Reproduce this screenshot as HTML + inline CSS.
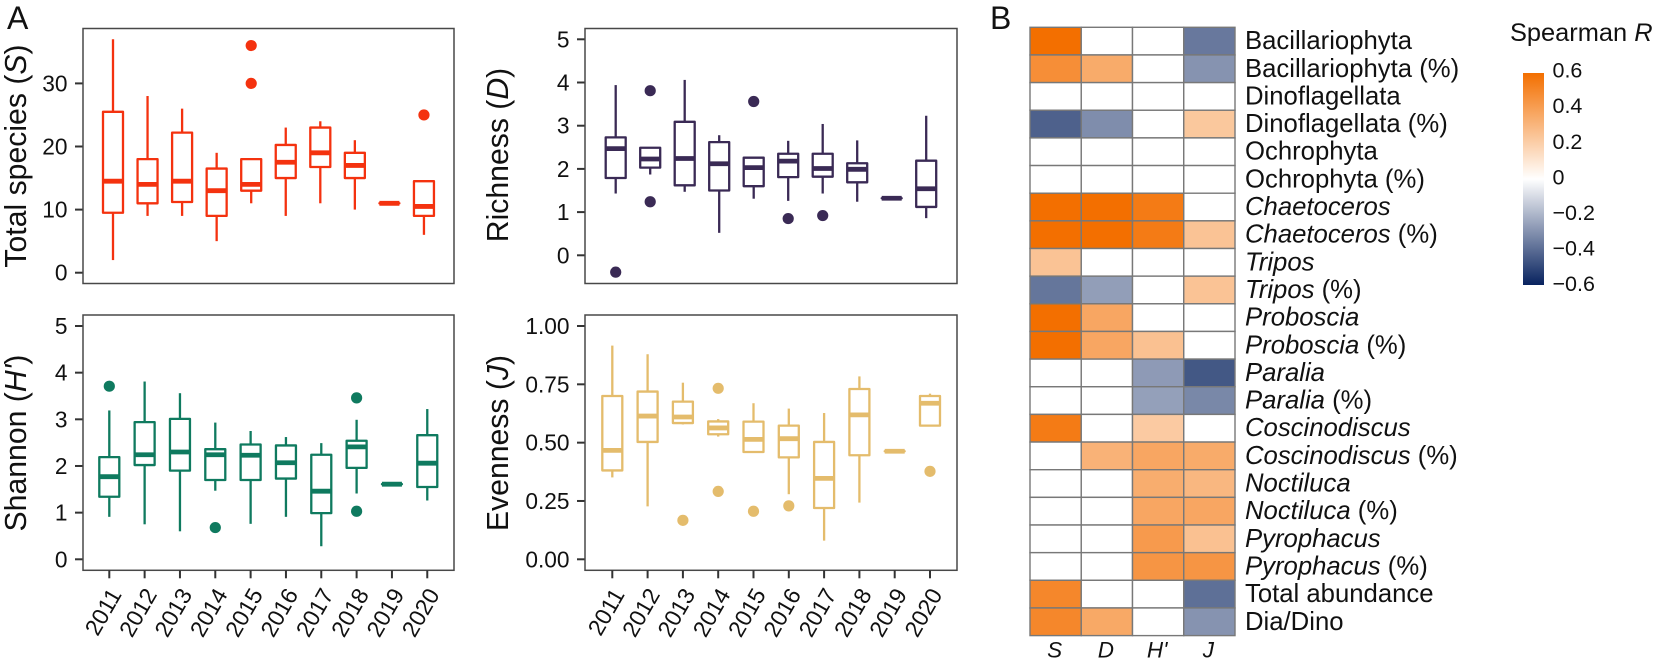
<!DOCTYPE html>
<html lang="en">
<head>
<meta charset="utf-8">
<title>Boxplots of diversity indices and Spearman heatmap</title>
<style>
html,body{margin:0;padding:0;background:#fff;}
body{width:1654px;height:666px;overflow:hidden;}
svg{display:block;}
text{font-family:"Liberation Sans",Arial,sans-serif;fill:#111;}
</style>
</head>
<body>
<svg id="figure" xmlns="http://www.w3.org/2000/svg" width="1654" height="666" viewBox="0 0 1654 666">
  <defs>
    <linearGradient id="legend-gradient" x1="0" y1="0" x2="0" y2="1">
      <stop offset="0" stop-color="#f36f00"/>
      <stop offset="0.5" stop-color="#ffffff"/>
      <stop offset="1" stop-color="#08235f"/>
    </linearGradient>
  </defs>
  <text x="7" y="29" font-size="32">A</text>
  <text x="990" y="29" font-size="32">B</text>
  <text x="1510" y="41" font-size="25.4">Spearman <tspan font-style="italic">R</tspan></text>
  <rect x="1523" y="73" width="21" height="212" fill="url(#legend-gradient)"/>
</svg>
<script>
// ---- Shared categories ----
const years = ['2011','2012','2013','2014','2015','2016','2017','2018','2019','2020'];

// ---- Total species (S) ----
const sLow = [2, 9, 9, 5, 11, 9, 11, 10, 11, 6];
const sQ1 = [9.5, 11, 11.2, 9, 13, 15, 16.75, 15, 11, 9];
const sMedian = [14.5, 14, 14.5, 13, 14, 17.5, 19, 17, 11, 10.5];
const sQ3 = [25.5, 18, 22.2, 16.5, 18, 20.25, 23, 19, 11, 14.5];
const sHigh = [37, 28, 26, 19, 18, 23, 24, 21, 11, 14.5];
const sOutliers = [[], [], [], [], [30, 36], [], [], [], [], [25]];
const sTicks = [0, 10, 20, 30];

// ---- Richness (D) ----
const dLow = [1.43, 1.87, 1.47, 0.52, 1.31, 1.26, 1.43, 1.24, 1.32, 0.86];
const dQ1 = [1.79, 2.03, 1.62, 1.5, 1.6, 1.81, 1.82, 1.69, 1.32, 1.12];
const dMedian = [2.47, 2.23, 2.24, 2.12, 2.03, 2.18, 2.01, 1.99, 1.32, 1.54];
const dQ3 = [2.73, 2.49, 3.09, 2.62, 2.26, 2.35, 2.35, 2.13, 1.32, 2.19];
const dHigh = [3.94, 2.49, 4.06, 2.78, 2.26, 2.65, 3.04, 2.66, 1.32, 3.23];
const dOutliers = [[-0.39], [3.81, 1.24], [], [], [3.56], [0.85], [0.92], [], [], []];
const dTicks = [0, 1, 2, 3, 4, 5];

// ---- Shannon (H') ----
const hLow = [0.91, 0.75, 0.6, 1.47, 0.76, 0.91, 0.28, 1.41, 1.61, 1.26];
const hQ1 = [1.34, 2.02, 1.9, 1.7, 1.7, 1.73, 0.99, 1.96, 1.61, 1.55];
const hMedian = [1.77, 2.24, 2.3, 2.24, 2.23, 2.07, 1.46, 2.41, 1.61, 2.06];
const hQ3 = [2.19, 2.94, 3.01, 2.36, 2.46, 2.44, 2.24, 2.54, 1.61, 2.66];
const hHigh = [3.19, 3.81, 3.56, 2.93, 2.75, 2.62, 2.49, 2.99, 1.61, 3.22];
const hOutliers = [[3.71], [], [], [0.68], [], [], [], [3.46, 1.03], [], []];
const hTicks = [0, 1, 2, 3, 4, 5];

// ---- Evenness (J) ----
const jLow = [0.351, 0.227, 0.578, 0.526, 0.46, 0.279, 0.08, 0.243, 0.463, 0.573];
const jQ1 = [0.381, 0.503, 0.584, 0.536, 0.46, 0.437, 0.22, 0.446, 0.463, 0.573];
const jMedian = [0.467, 0.614, 0.61, 0.563, 0.514, 0.517, 0.347, 0.619, 0.463, 0.669];
const jQ3 = [0.70, 0.719, 0.676, 0.591, 0.59, 0.573, 0.503, 0.73, 0.463, 0.70];
const jHigh = [0.916, 0.879, 0.757, 0.601, 0.669, 0.646, 0.627, 0.784, 0.463, 0.71];
const jOutliers = [[], [], [0.167], [0.733, 0.291], [0.206], [0.229], [], [], [], [0.377]];
const jTicks = [0, 0.25, 0.5, 0.75, 1];
const jTickLabels = ['0.00', '0.25', '0.50', '0.75', '1.00'];

// ---- Heatmap ----
const heatRows = ['Bacillariophyta','Bacillariophyta (%)','Dinoflagellata','Dinoflagellata (%)','Ochrophyta','Ochrophyta (%)','Chaetoceros','Chaetoceros (%)','Tripos','Tripos (%)','Proboscia','Proboscia (%)','Paralia','Paralia (%)','Coscinodiscus','Coscinodiscus (%)','Noctiluca','Noctiluca (%)','Pyrophacus','Pyrophacus (%)','Total abundance','Dia/Dino'];
const heatItalicRows = [6,7,8,9,10,11,12,13,14,15,16,17,18,19];
const heatColumns = ['S','D',"H'",'J'];
const heatS = [0.6,0.47,0,-0.43,0,0,0.6,0.6,0.25,-0.375,0.6,0.6,0,0,0.55,0,0,0,0,0,0.5,0.5];
const heatD = [0,0.35,0,-0.31,0,0,0.6,0.6,0,-0.265,0.37,0.37,0,0,0,0.32,0,0,0,0,0,0.36];
const heatH = [0,0,0,0,0,0,0.55,0.55,0,0,0,0.26,-0.275,-0.26,0.22,0.37,0.34,0.37,0.42,0.44,0,0];
const heatJ = [-0.367,-0.295,0,0.23,0,0,0,0.25,0,0.25,0,0,-0.456,-0.325,0,0.35,0.3,0.37,0.26,0.44,-0.39,-0.295];

// ---- Legend ----
const legendTicks = [0.6, 0.4, 0.2, 0, -0.2, -0.4, -0.6];
const legendTickLabels = ['0.6','0.4','0.2','0','\u22120.2','\u22120.4','\u22120.6'];

const svg = document.getElementById('figure');
const NS = 'http://www.w3.org/2000/svg';

function make(tag, attrs, parent) {
  const node = document.createElementNS(NS, tag);
  for (const k in attrs) node.setAttribute(k, attrs[k]);
  (parent || svg).appendChild(node);
  return node;
}

function drawPanel(p) {
  const g = make('g', {});
  
  

  const yScale = v => p.yZero - (v - p.yBase) * p.yUnit;
  const xScale = i => p.xFirst + i * p.xStep;

  // y ticks
  p.ticks.forEach((t, i) => {
    const tick = make('line', {x1: p.left - 8, x2: p.left, y1: yScale(t), y2: yScale(t), stroke: '#333', 'stroke-width': 2}, g);
    
    
    const label = make('text', {x: p.left - 15.5, y: yScale(t) + 8, 'text-anchor': 'end', 'font-size': 22.7}, g);
    
    
    label.textContent = p.tickLabels ? p.tickLabels[i] : String(t);
  });

  // boxes
  years.forEach((year, i) => {
    const x = xScale(i);
    const hw = 10;
    const box = make('g', {stroke: p.color, fill: 'none'}, g);
    
    

    const upper = make('line', {x1: x, x2: x, y1: yScale(p.q3[i]), y2: yScale(p.high[i]), 'stroke-width': 2.3}, box);
    
    

    const lower = make('line', {x1: x, x2: x, y1: yScale(p.q1[i]), y2: yScale(p.low[i]), 'stroke-width': 2.3}, box);
    
    

    const yT = yScale(p.q3[i]), yB = yScale(p.q1[i]);
    const rect = make('path', {d: 'M' + (x - hw) + ' ' + yT + 'H' + (x + hw) + 'V' + yB + 'H' + (x - hw) + 'Z', 'stroke-width': 2.3, 'stroke-linejoin': 'round'}, box);
    
    

    const med = make('line', {x1: x - hw, x2: x + hw, y1: yScale(p.median[i]), y2: yScale(p.median[i]), 'stroke-width': 4.8}, box);
    
    

    p.outliers[i].forEach(v => {
      const dot = make('circle', {cx: x, cy: yScale(v), r: 5.6, fill: p.color, stroke: 'none'}, box);
      
      
    });
  });

  // frame
  const frame = make('rect', {x: p.left, y: p.top, width: p.right - p.left, height: p.bottom - p.top, fill: 'none', stroke: '#484848', 'stroke-width': 1.5}, g);
  
  

  // x ticks
  if (p.showX) {
    years.forEach((year, i) => {
      const x = xScale(i);
      const tick = make('line', {x1: x, x2: x, y1: p.bottom, y2: p.bottom + 8, stroke: '#333', 'stroke-width': 2}, g);
      
      
      const label = make('text', {transform: 'translate(' + (x + 13) + ' ' + (p.bottom + 24) + ') rotate(-60)', 'text-anchor': 'end', 'font-size': 23}, g);
      
      
      label.textContent = year;
    });
  }

  // axis title
  const title = make('text', {transform: 'translate(' + p.titleX + ' ' + p.titleY + ') rotate(-90)', 'text-anchor': 'middle', 'font-size': 30.2}, g);
  
  
  const t1 = make('tspan', {}, title);
  t1.textContent = p.title + ' (';
  const t2 = make('tspan', {'font-style': 'italic'}, title);
  t2.textContent = p.symbol;
  const t3 = make('tspan', {}, title);
  t3.textContent = ')';
}

drawPanel({id:'total-species', color:'#f4320f', left:83, right:454, top:28.5, bottom:283.5, yZero:272.7, yBase:0, yUnit:6.31, xFirst:113, xStep:34.55, low:sLow, q1:sQ1, median:sMedian, q3:sQ3, high:sHigh, outliers:sOutliers, ticks:sTicks, showX:false, title:'Total species', symbol:'S', titleX:26, titleY:156});
drawPanel({id:'richness', color:'#3a2a55', left:585, right:957, top:28.5, bottom:283.5, yZero:255.3, yBase:0, yUnit:43.2, xFirst:615.7, xStep:34.5, low:dLow, q1:dQ1, median:dMedian, q3:dQ3, high:dHigh, outliers:dOutliers, ticks:dTicks, showX:false, title:'Richness', symbol:'D', titleX:508, titleY:155});
drawPanel({id:'shannon', color:'#0f7a5f', left:83, right:454, top:315, bottom:570.3, yZero:559.3, yBase:0, yUnit:46.66, xFirst:109.3, xStep:35.33, low:hLow, q1:hQ1, median:hMedian, q3:hQ3, high:hHigh, outliers:hOutliers, ticks:hTicks, showX:true, title:'Shannon', symbol:"H'", titleX:26, titleY:443});
drawPanel({id:'evenness', color:'#e4bc6c', left:585, right:957, top:315, bottom:570.3, yZero:559.3, yBase:0, yUnit:233.3, xFirst:612.3, xStep:35.3, low:jLow, q1:jQ1, median:jMedian, q3:jQ3, high:jHigh, outliers:jOutliers, ticks:jTicks, tickLabels:jTickLabels, showX:true, title:'Evenness', symbol:'J', titleX:508, titleY:443});

// ---- heatmap drawing ----
const heatLeft = 1030, heatTop = 27.3, cellW = 51.25, cellH = 27.65;
const heatValues = [heatS, heatD, heatH, heatJ];

function heatColor(v) {
  const t = Math.min(Math.abs(v) / 0.6, 1);
  const end = v >= 0 ? [243, 111, 0] : [8, 35, 95];
  const mix = end.map(c => Math.round(255 + (c - 255) * t));
  return 'rgb(' + mix.join(',') + ')';
}

const heatmap = make('g', {});



heatValues.forEach((col, c) => {
  col.forEach((v, r) => {
    const cell = make('rect', {x: heatLeft + c * cellW, y: heatTop + r * cellH, width: cellW, height: cellH, fill: heatColor(v), stroke: '#787878', 'stroke-width': 1.4}, heatmap);
    
    
  });
});

heatRows.forEach((row, r) => {
  const label = make('text', {x: heatLeft + 215, y: heatTop + (r + 0.5) * cellH + 8, 'font-size': 25.7}, heatmap);
  
  
  const italic = heatItalicRows.includes(r);
  const pct = row.endsWith(' (%)');
  const base = pct ? row.slice(0, -4) : row;
  const main = make('tspan', italic ? {'font-style': 'italic'} : {}, label);
  main.textContent = base;
  if (pct) {
    const tail = make('tspan', {}, label);
    tail.textContent = ' (%)';
  }
});

heatColumns.forEach((name, c) => {
  const label = make('text', {x: heatLeft + (c + 0.5) * cellW - 1, y: 657.5, 'text-anchor': 'middle', 'font-size': 22.5, 'font-style': 'italic'}, heatmap);
  
  
  label.textContent = name;
});

// ---- legend labels ----
legendTicks.forEach((v, i) => {
  const label = make('text', {x: 1552.5, y: 176.7 - v * 178 + 7.7, 'font-size': 21.5});
  
  
  label.textContent = legendTickLabels[i];
});
</script>
</body>
</html>
